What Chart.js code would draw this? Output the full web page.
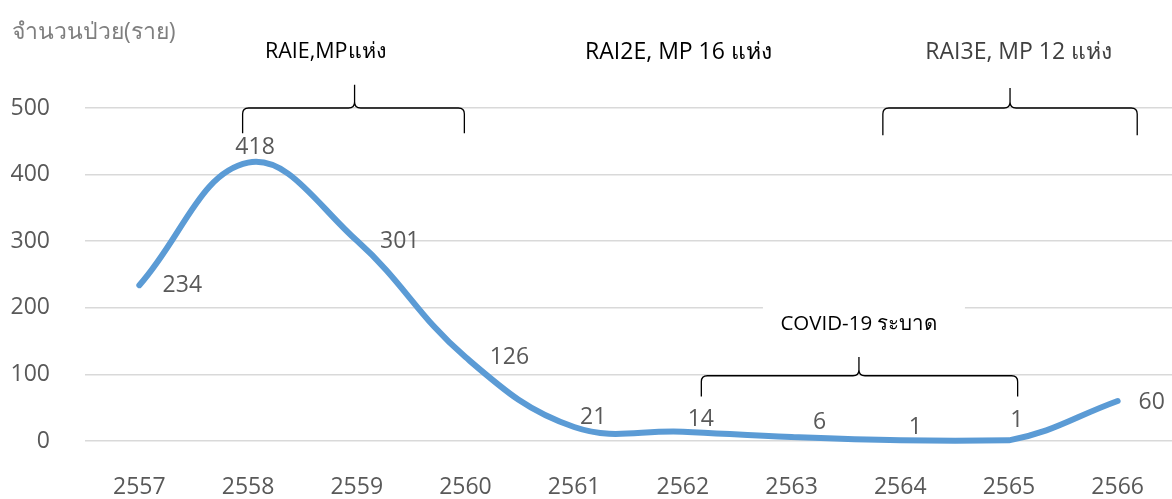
<!DOCTYPE html>
<html>
<head>
<meta charset="utf-8">
<script src="https://cdn.jsdelivr.net/npm/chart.js@4"></script>
<style>
html,body{margin:0;padding:0;background:#fff;}
#wrap{position:relative;width:1172px;height:499px;}
</style>
</head>
<body>
<div id="wrap"><canvas id="c" width="1172" height="499"></canvas></div>
<script>
const years = ['2557','2558','2559','2560','2561','2562','2563','2564','2565','2566'];
const cases = [234, 418, 301, 126, 21, 14, 6, 1, 1, 60];
const yTicks = [0, 100, 200, 300, 400, 500];
const yTitle = 'จำนวนป่วย(ราย)';
const phaseNotes = ['RAIE,MPแห่ง', 'RAI2E, MP 16 แห่ง', 'RAI3E, MP 12 แห่ง', 'COVID-19 ระบาด'];

const FONT = '"Open Sans","Noto Sans","DejaVu Sans",sans-serif';

// label offsets in px relative to each point (style only)
const labelOffsets = [[43,0],[7,-15],[43,1],[44,0],[19,-10],[18,-12],[28,-15],[15,-13],[8,-20],[34,1]];

const decorPlugin = {
  id: 'decor',
  beforeDatasetsDraw(chart) {
    const ctx = chart.ctx;
    const xs = chart.scales.x, ys = chart.scales.y;
    const cx = xs.getPixelForValue(6.62), cy = ys.getPixelForValue(175);
    ctx.save();
    ctx.fillStyle = '#fff';
    ctx.fillRect(cx - 96, cy - 22, 202, 44);
    ctx.restore();
  },
  afterDatasetsDraw(chart) {
    const ctx = chart.ctx;
    const xs = chart.scales.x, ys = chart.scales.y;
    const meta = chart.getDatasetMeta(0);
    ctx.save();
    ctx.font = '23px ' + FONT;
    ctx.fillStyle = '#595959';
    ctx.textAlign = 'center';
    ctx.textBaseline = 'middle';
    meta.data.forEach((pt, i) => {
      const o = labelOffsets[i];
      ctx.fillText(String(cases[i]), pt.x + o[0], pt.y + o[1]);
    });
    ctx.restore();

    ctx.save();
    ctx.font = '23px ' + FONT;
    ctx.fillStyle = '#7f7f7f';
    ctx.textAlign = 'left';
    ctx.textBaseline = 'middle';
    ctx.fillText(yTitle, 12, 32);
    ctx.restore();

    function brace(x1, x2, xm, yLine, yEnd, yTip) {
      const X1 = xs.getPixelForValue(x1), X2 = xs.getPixelForValue(x2), XM = xs.getPixelForValue(xm);
      const YL = ys.getPixelForValue(yLine), YE = ys.getPixelForValue(yEnd), YT = ys.getPixelForValue(yTip);
      const r = 6;
      ctx.beginPath();
      ctx.moveTo(X1, YE);
      ctx.lineTo(X1, YL + r);
      ctx.quadraticCurveTo(X1, YL, X1 + r, YL);
      ctx.lineTo(XM - r, YL);
      ctx.quadraticCurveTo(XM, YL, XM, YL - r);
      ctx.lineTo(XM, YT);
      ctx.moveTo(XM, YL - r);
      ctx.quadraticCurveTo(XM, YL, XM + r, YL);
      ctx.lineTo(X2 - r, YL);
      ctx.quadraticCurveTo(X2, YL, X2, YL + r);
      ctx.lineTo(X2, YE);
      ctx.stroke();
    }
    ctx.save();
    ctx.strokeStyle = '#000';
    ctx.lineWidth = 1.3;
    brace(0.95, 2.99, 1.98, 500, 462, 535);
    brace(6.84, 9.18, 8.01, 500, 459, 530);
    brace(5.17, 8.08, 6.62, 98, 67, 126);
    ctx.restore();

    ctx.save();
    ctx.textAlign = 'center';
    ctx.textBaseline = 'middle';
    ctx.fillStyle = '#000';
    ctx.font = '21.5px ' + FONT;
    ctx.fillText(phaseNotes[0], xs.getPixelForValue(1.71), 52);
    ctx.font = '23px ' + FONT;
    ctx.fillText(phaseNotes[1], xs.getPixelForValue(4.96), 52);
    ctx.fillStyle = '#404040';
    ctx.fillText(phaseNotes[2], xs.getPixelForValue(8.09), 52);
    ctx.fillStyle = '#000';
    ctx.font = '20.5px ' + FONT;
    ctx.fillText(phaseNotes[3], xs.getPixelForValue(6.62), ys.getPixelForValue(175));
    ctx.restore();
  }
};

new Chart(document.getElementById('c'), {
  type: 'line',
  data: {
    labels: years,
    datasets: [{
      data: cases,
      borderColor: '#5B9BD5',
      borderWidth: 6,
      borderCapStyle: 'round',
      pointRadius: 0,
      tension: 0.4,
      fill: false
    }]
  },
  options: {
    responsive: false,
    animation: false,
    clip: false,
    layout: { padding: { top: 108, right: 0, left: 0, bottom: 0 } },
    plugins: { legend: { display: false }, tooltip: { enabled: false } },
    scales: {
      x: {
        offset: true,
        grid: { display: false },
        border: { display: false },
        ticks: { color: '#595959', font: { size: 23, family: FONT }, padding: 25, maxRotation: 0 },
        afterFit(s) { s.height = 58; }
      },
      y: {
        min: 0, max: 500,
        afterBuildTicks(s) { s.ticks = yTicks.map(v => ({ value: v })); },
        grid: { color: '#d9d9d9', lineWidth: 1.5, drawTicks: false },
        border: { display: false },
        ticks: { color: '#595959', font: { size: 23, family: FONT }, padding: 35 },
        afterFit(s) { s.width = 85; }
      }
    }
  },
  plugins: [decorPlugin]
});
</script>
</body>
</html>
